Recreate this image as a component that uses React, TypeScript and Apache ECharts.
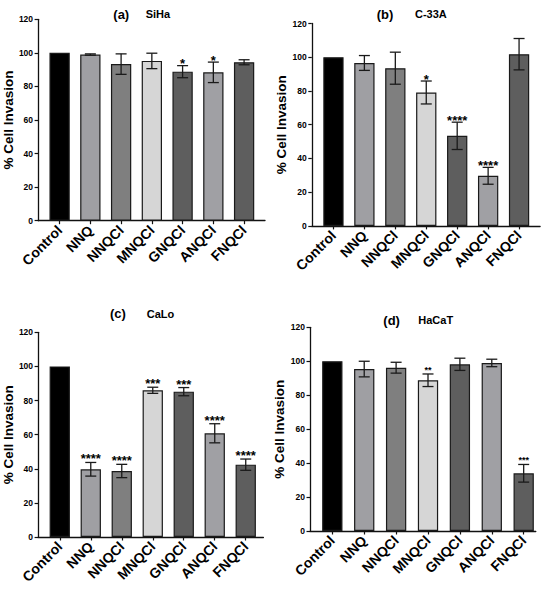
import React, { useEffect, useRef } from "react";
import * as echarts from "echarts";

const FONT = '"Liberation Sans", Arial, Helvetica, sans-serif';

const categories = ["Control", "NNQ", "NNQCl", "MNQCl", "GNQCl", "ANQCl", "FNQCl"];
const barColors = ["#000000", "#9f9fa3", "#7f7f7f", "#d6d6d6", "#5e5e5e", "#a0a0a4", "#5e5e5e"];
const yTickMax = 120;
const yTickStep = 20;

const sihaMean = [100, 99.0, 93.3, 95.2, 88.8, 88.4, 94.4];
const sihaErr = [0, 0.4, 6.1, 4.6, 3.6, 6.1, 1.5];
const sihaSig = ["", "", "", "", "*", "*", ""];

const c33aMean = [100, 96.6, 93.5, 79.1, 53.4, 29.7, 101.8];
const c33aErr = [0, 4.4, 9.5, 6.8, 8.1, 5.0, 9.3];
const c33aSig = ["", "", "", "*", "****", "****", ""];

const caloMean = [100, 39.7, 38.7, 86.0, 85.2, 60.8, 42.4];
const caloErr = [0, 4.0, 3.9, 1.8, 2.4, 5.6, 3.3];
const caloSig = ["", "****", "****", "***", "***", "****", "****"];

const hacatMean = [100, 95.4, 96.2, 88.8, 98.2, 99.0, 34.0];
const hacatErr = [0, 4.6, 3.2, 3.7, 3.6, 2.2, 5.2];
const hacatSig = ["", "", "", "**", "", "", "***"];

const panels = [
  {
    tag: "(a)", name: "SiHa", mean: sihaMean, err: sihaErr, sig: sihaSig,
    grid: { left: 35.7, top: 19.3, width: 229.3, height: 201.4 },
    xMin: -0.7, xMax: 6.68, starSize: 13, starLift: 2,
    tagPos: [113.3, 14], namePos: [145.7, 14],
  },
  {
    tag: "(b)", name: "C-33A", mean: c33aMean, err: c33aErr, sig: c33aSig,
    grid: { left: 311.8, top: 23.5, width: 228.3, height: 202.4 },
    xMin: -0.7, xMax: 6.68, starSize: 13, starLift: 2,
    tagPos: [376.7, 14], namePos: [415, 14],
  },
  {
    tag: "(c)", name: "CaLo", mean: caloMean, err: caloErr, sig: caloSig,
    grid: { left: 36, top: 332.3, width: 227.4, height: 204.7 },
    xMin: -0.7, xMax: 6.57, starSize: 13, starLift: 3.5,
    tagPos: [110, 313.5], namePos: [146.7, 313.5],
  },
  {
    tag: "(d)", name: "HaCaT", mean: hacatMean, err: hacatErr, sig: hacatSig,
    grid: { left: 310, top: 327.3, width: 225.8, height: 203.7 },
    xMin: -0.7, xMax: 6.38, starSize: 9, starLift: 4,
    tagPos: [383.3, 320], namePos: [418.3, 320],
  },
];

const idxs = categories.map((_, i) => i);
const AXIS_COLOR = "#111111";

function buildOption() {
  const grid: any[] = [];
  const xAxis: any[] = [];
  const yAxis: any[] = [];
  const series: any[] = [];
  const graphic: any[] = [];

  panels.forEach((p, k) => {
    grid.push({ ...p.grid, containLabel: false });
    xAxis.push({
      type: "value",
      gridIndex: k,
      min: p.xMin,
      max: p.xMax,
      axisLine: { show: true, onZero: false, lineStyle: { color: AXIS_COLOR, width: 1.3 } },
      axisTick: { show: true, customValues: idxs, length: 3.5, lineStyle: { color: AXIS_COLOR, width: 1.2 } },
      axisLabel: {
        customValues: idxs,
        formatter: (v: number) => categories[Math.round(v)] ?? "",
        rotate: 45,
        margin: 7,
        fontSize: 14,
        fontWeight: "bold",
        fontFamily: FONT,
        color: "#000",
        hideOverlap: false,
      },
      splitLine: { show: false },
    });
    yAxis.push({
      type: "value",
      gridIndex: k,
      min: 0,
      max: yTickMax,
      interval: yTickStep,
      name: "% Cell Invasion",
      nameLocation: "middle",
      nameGap: 22,
      nameTextStyle: { fontSize: 13.5, fontWeight: "bold", fontFamily: FONT, color: "#000" },
      axisLine: { show: true, onZero: false, lineStyle: { color: AXIS_COLOR, width: 1.3 } },
      axisTick: { show: true, length: 3.5, lineStyle: { color: AXIS_COLOR, width: 1.2 } },
      axisLabel: { fontSize: 8.5, fontWeight: "bold", fontFamily: FONT, color: "#000", margin: 5 },
      splitLine: { show: false },
    });
    series.push({
      type: "bar",
      xAxisIndex: k,
      yAxisIndex: k,
      barWidth: 20.3,
      data: p.mean.map((v, i) => ({ value: [i, v], itemStyle: { color: barColors[i] } })),
      itemStyle: { borderColor: "#1a1a1a", borderWidth: 1.2 },
      silent: true,
      z: 2,
    });
    series.push({
      type: "custom",
      xAxisIndex: k,
      yAxisIndex: k,
      coordinateSystem: "cartesian2d",
      silent: true,
      z: 5,
      clip: false,
      encode: { x: 0, y: 1 },
      data: p.mean.map((v, i) => [i, v, p.err[i]]),
      renderItem: (params: any, api: any) => {
        const i = api.value(0);
        const m = api.value(1);
        const e = api.value(2);
        const children: any[] = [];
        const lineStyle = { stroke: "#1a1a1a", lineWidth: 1.3 };
        const top = api.coord([i, m + e]);
        if (e > 0) {
          const bot = api.coord([i, m - e]);
          const cap = 5.5;
          children.push({ type: "line", shape: { x1: top[0], y1: top[1], x2: bot[0], y2: bot[1] }, style: lineStyle });
          children.push({ type: "line", shape: { x1: top[0] - cap, y1: top[1], x2: top[0] + cap, y2: top[1] }, style: lineStyle });
          children.push({ type: "line", shape: { x1: bot[0] - cap, y1: bot[1], x2: bot[0] + cap, y2: bot[1] }, style: lineStyle });
        }
        const s = p.sig[i];
        if (s) {
          children.push({
            type: "text",
            x: top[0],
            y: top[1] - p.starLift,
            style: {
              text: s,
              fontSize: p.starSize,
              fontWeight: "bold",
              fontFamily: FONT,
              fill: "#000",
              align: "center",
              verticalAlign: "middle",
            },
          });
        }
        return { type: "group", children };
      },
    });
    graphic.push({
      type: "text",
      x: p.tagPos[0],
      y: p.tagPos[1],
      style: { text: p.tag, fontSize: 13, fontWeight: "bold", fontFamily: FONT, fill: "#000", align: "left", verticalAlign: "middle" },
    });
    graphic.push({
      type: "text",
      x: p.namePos[0],
      y: p.namePos[1],
      style: { text: p.name, fontSize: 11, fontWeight: "bold", fontFamily: FONT, fill: "#000", align: "left", verticalAlign: "middle" },
    });
  });

  return {
    animation: false,
    backgroundColor: "#ffffff",
    grid,
    xAxis,
    yAxis,
    series,
    graphic,
  };
}

export default function App() {
  const ref = useRef<HTMLDivElement>(null);
  useEffect(() => {
    if (!ref.current) return;
    const chart = echarts.init(ref.current, null, { renderer: "svg" });
    chart.setOption(buildOption() as any);
    return () => chart.dispose();
  }, []);
  return (
    <div
      ref={ref}
      style={{ position: "absolute", left: 0, top: 0, width: 550, height: 591, background: "#fff" }}
    />
  );
}
